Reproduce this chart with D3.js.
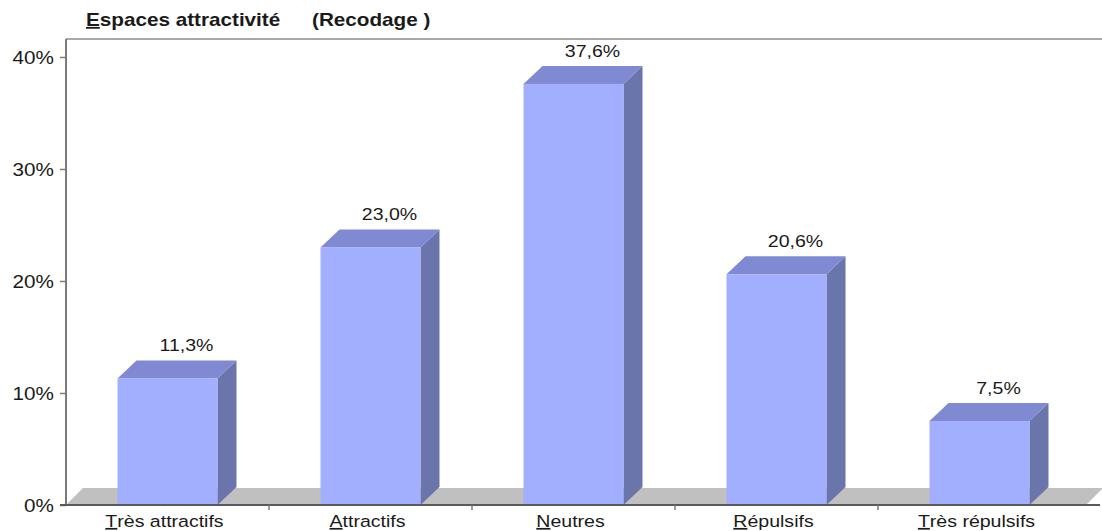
<!DOCTYPE html>
<html>
<head>
<meta charset="utf-8">
<script src="https://cdn.jsdelivr.net/npm/d3@7"></script>
<style>
  html, body { margin: 0; padding: 0; background: #fff; }
  svg { display: block; font-family: 'Liberation Sans', Arial, sans-serif; }
</style>
</head>
<body>
<div id="chart"></div>
<script>
// Espaces attractivité (Recodage) — 3D-look column chart

const categories = ['Très attractifs', 'Attractifs', 'Neutres', 'Répulsifs', 'Très répulsifs'];
const values = [0.113, 0.230, 0.376, 0.206, 0.075];
const valueLabels = ['11,3%', '23,0%', '37,6%', '20,6%', '7,5%'];
const yTicks = [0, 0.1, 0.2, 0.3, 0.4];

const W = 1102, H = 531;
const PLOT = { left: 66, right: 1081, top: 39, bottom: 505 };
const DEPTH = { dx: 19, dy: 18 };
const SX = 1.15; // source text is slightly stretched horizontally
const FONT = 17;

const COLORS = {
  front: '#a2aefe',
  top: '#808ad2',
  side: '#6a75ab',
  floor: '#c0c0c0',
  axis: '#7a7a7a',
  frame: '#a8a8a8',
  text: '#1a1a1a',
};

const svg = d3.select('#chart').append('svg')
  .attr('width', W)
  .attr('height', H);

const x = d3.scaleBand().domain(categories).range([PLOT.left, PLOT.right]).paddingInner(0).paddingOuter(0);
const y = d3.scaleLinear().domain([0, 0.4]).range([PLOT.bottom, 57]);
const barW = 100;

// stretched text helper: places text at (px, py) scaled horizontally
function stretchedText(parent, px, py, anchor) {
  return parent.append('text')
    .attr('transform', `translate(${px},${py}) scale(${SX},1)`)
    .attr('text-anchor', anchor)
    .attr('font-size', FONT)
    .attr('fill', COLORS.text);
}

// underline first letter, like the source labels
function underlineFirst(t, label) {
  t.append('tspan').attr('text-decoration', 'underline').text(label[0]);
  t.append('tspan').text(label.slice(1));
}

// Title
const title = stretchedText(svg, 86, 26, 'start').attr('font-weight', 'bold').attr('font-size', 18);
underlineFirst(title, 'Espaces attractivité');
stretchedText(svg, 312, 26, 'start').attr('font-weight', 'bold').attr('font-size', 18).text('(Recodage )');

// Frame: top line
svg.append('line')
  .attr('x1', PLOT.left).attr('x2', W)
  .attr('y1', PLOT.top).attr('y2', PLOT.top)
  .attr('stroke', COLORS.frame).attr('stroke-width', 2);

// Floor
const floorPts = [
  [PLOT.left, PLOT.bottom],
  [PLOT.right + 5, PLOT.bottom],
  [PLOT.right + 5 + DEPTH.dx - 2, PLOT.bottom - DEPTH.dy + 1],
  [PLOT.left + DEPTH.dx - 2, PLOT.bottom - DEPTH.dy + 1],
];
svg.append('polygon')
  .attr('points', floorPts.map(p => p.join(',')).join(' '))
  .attr('fill', COLORS.floor);

// Y axis
const yAxis = d3.axisLeft(y)
  .tickValues(yTicks)
  .tickFormat(d => `${Math.round(d * 100)}%`)
  .tickSize(6)
  .tickSizeOuter(0);

const yG = svg.append('g')
  .attr('transform', `translate(${PLOT.left},0)`)
  .call(yAxis);
yG.select('.domain').remove();
yG.append('line')
  .attr('x1', 0).attr('x2', 0)
  .attr('y1', PLOT.top).attr('y2', PLOT.bottom)
  .attr('stroke', COLORS.axis).attr('stroke-width', 2);
yG.selectAll('.tick line').attr('stroke', COLORS.axis).attr('stroke-width', 1.5);
yG.selectAll('.tick text')
  .attr('x', -12 / SX)
  .attr('dy', '0.34em')
  .attr('transform', `scale(${SX},1)`)
  .attr('font-family', null)
  .attr('font-size', 18)
  .attr('fill', COLORS.text);

// Bars
const bars = svg.append('g').selectAll('g.bar')
  .data(categories.map((c, i) => ({ c, v: values[i], label: valueLabels[i] })))
  .join('g')
  .attr('class', 'bar');

bars.each(function (d) {
  const g = d3.select(this);
  const cx = x(d.c) + x.bandwidth() / 2;
  const x0 = cx - barW / 2, x1 = cx + barW / 2;
  const yt = y(d.v), yb = y(0);
  const { dx, dy } = DEPTH;

  g.append('polygon')
    .attr('points', [[x1, yt], [x1 + dx, yt - dy], [x1 + dx, yb - dy], [x1, yb]].map(p => p.join(',')).join(' '))
    .attr('fill', COLORS.side);
  g.append('polygon')
    .attr('points', [[x0, yt], [x1, yt], [x1 + dx, yt - dy], [x0 + dx, yt - dy]].map(p => p.join(',')).join(' '))
    .attr('fill', COLORS.top);
  g.append('rect')
    .attr('x', x0).attr('y', yt)
    .attr('width', barW).attr('height', yb - yt)
    .attr('fill', COLORS.front);

  stretchedText(g, cx + dx, yt - dy - 9, 'middle').text(d.label);
});

// Baseline + category ticks
svg.append('line')
  .attr('x1', PLOT.left - 6).attr('x2', W - 2)
  .attr('y1', PLOT.bottom).attr('y2', PLOT.bottom)
  .attr('stroke', '#5a5a5a').attr('stroke-width', 2);

svg.append('g').selectAll('line.ctick')
  .data(categories.slice(1))
  .join('line')
  .attr('class', 'ctick')
  .attr('x1', d => x(d)).attr('x2', d => x(d))
  .attr('y1', PLOT.bottom).attr('y2', PLOT.bottom + 5)
  .attr('stroke', COLORS.axis).attr('stroke-width', 1.5);

// Category labels
categories.forEach(c => {
  const t = stretchedText(svg, x(c) + x.bandwidth() / 2 - 3, 527, 'middle');
  underlineFirst(t, c);
});
</script>
</body>
</html>
